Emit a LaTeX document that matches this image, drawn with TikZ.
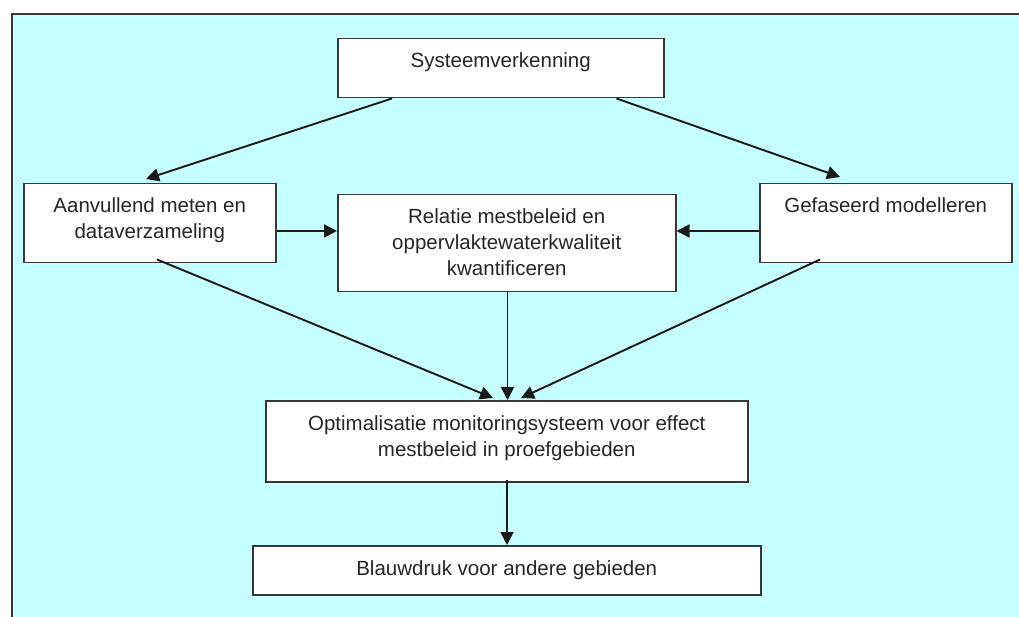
\documentclass[tikz,border=0pt]{standalone}
\usepackage{fontspec}
\setmainfont{Liberation Sans}
\usetikzlibrary{arrows.meta}
\definecolor{bgcyan}{RGB}{198,255,255}
\definecolor{edge}{RGB}{55,55,55}
\tikzset{box/.style = {draw=edge, line width=1.5pt, fill=white, inner sep=0pt,
                       anchor=north west}}
\tikzset{lbl/.style = {anchor=north, inner sep=0pt, align=center, text=black!85,
                       font=\fontsize{20.5}{26}\selectfont}}
\tikzset{flow/.style = {-{Triangle[length=13pt,width=13pt]}, line width=1.9pt,
                        black!90}}
\begin{document}
\begin{tikzpicture}[x=1pt, y=-1pt]
      \useasboundingbox (0,0) rectangle (1019,617);
      % background panel
      \fill[bgcyan] (12,14) rectangle (1019,617);
      \draw[line width=1.6pt, edge] (12,617) -- (12,14) -- (1019,14);

      % boxes
      \node[box, minimum width=326, minimum height=59] (sys) at (337,38) {};
      \node[box, minimum width=252, minimum height=79] (meet) at (23,183) {};
      \node[box, minimum width=338, minimum height=97] (rel) at (337,194) {};
      \node[box, minimum width=252, minimum height=79] (mod) at (759,183) {};
      \node[box, minimum width=482, minimum height=81] (opt) at (265,400) {};
      \node[box, minimum width=508, minimum height=49] (blauw) at (252,545) {};

      % texts
      \node[lbl] (sys-t) at ([yshift=-14]sys.north) {Systeemverkenning};
      \node[lbl] (meet-t) at ([yshift=-14]meet.north) {Aanvullend meten en\\dataverzameling};
      \node[lbl] (rel-t) at ([yshift=-14]rel.north)
        {Relatie mestbeleid en\\oppervlaktewaterkwaliteit\\kwantificeren};
      \node[lbl] (mod-t) at ([yshift=-14]mod.north) {Gefaseerd modelleren};
      \node[lbl] (opt-t) at ([yshift=-15]opt.north)
        {Optimalisatie monitoringsysteem voor effect\\mestbeleid in proefgebieden};
      \node[lbl] (blauw-t) at ([yshift=-15]blauw.north) {Blauwdruk voor andere gebieden};

      % arrows
      \draw[flow] ([xshift=55]sys.south west) -- ([xshift=123,yshift=4]meet.north west);
      \draw[flow] ([xshift=-48]sys.south east) -- ([xshift=81,yshift=6]mod.north west);
      \draw[flow] (meet.east |- 0,231) -- (rel.west |- 0,231);
      \draw[flow] (mod.west |- 0,231) -- (rel.east |- 0,231);
      \draw[flow] ([xshift=134,yshift=4]meet.south west) -- ([xshift=228,yshift=2]opt.north west);
      \draw[flow] ([xshift=-169]rel.south east) -- ([xshift=-169]rel.south east |- opt.north);
      \draw[flow] ([xshift=61,yshift=4]mod.south west) -- ([xshift=256,yshift=2]opt.north west);
      \draw[flow] ([xshift=242,yshift=3]opt.south west) -- ([xshift=255]blauw.north west);
\end{tikzpicture}
\end{document}
